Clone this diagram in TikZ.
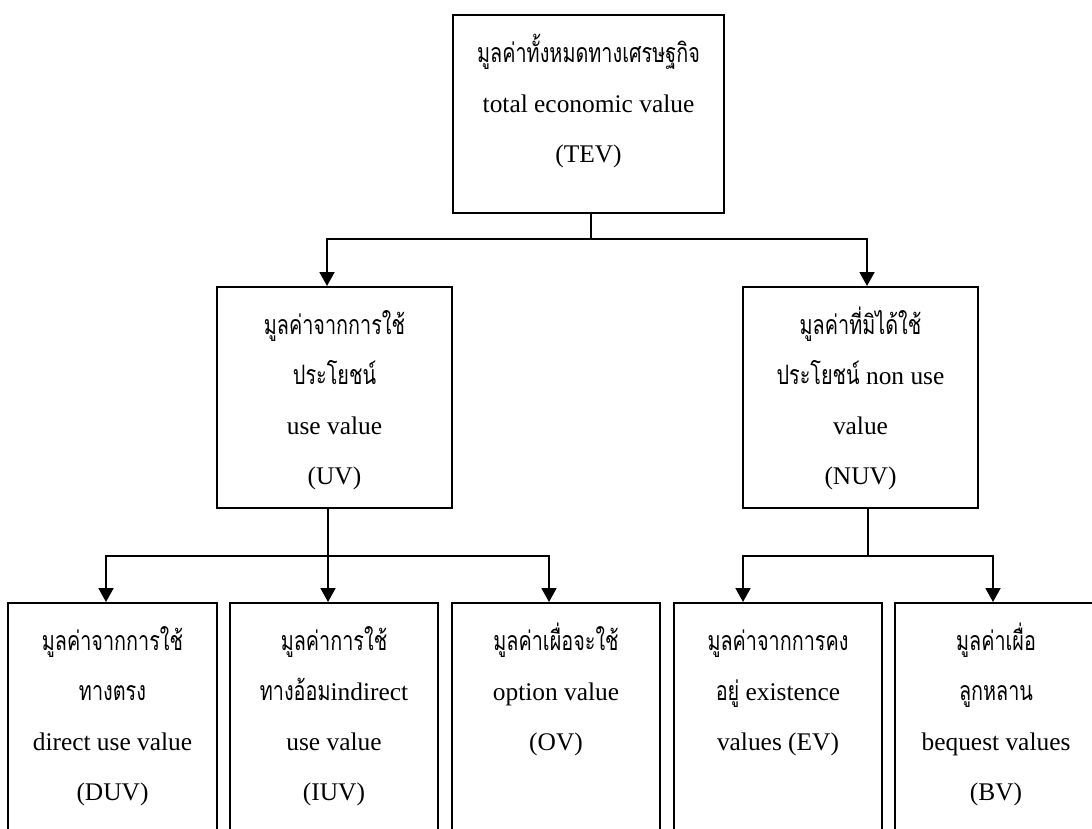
\documentclass[tikz,border=0pt]{standalone}
\usepackage{fontspec}
\usepackage{graphicx}
\setmainfont{Liberation Serif}
\newfontfamily\thaifont[Script=Thai,Scale=0.78]{Loma}
% Thai runs are set a little taller than the plain font
\newcommand\thx[1]{\scalebox{1}[1.35]{\thaifont #1}}
\newcommand\firststrut{\rule{0pt}{30pt}}
\usetikzlibrary{arrows.meta}

\begin{document}
\begin{tikzpicture}[x=1pt,y=-1pt,
  box/.style={draw, line width=2pt, inner sep=0pt},
  txt/.style={anchor=north, align=center, inner sep=0pt,
              font=\fontsize{25.4}{50}\selectfont},
  link/.style={line width=1.9pt},
  arr/.style={link, -{Triangle[length=14pt,width=15pt]}}]
\clip (0,0) rectangle (1092,829);
\fill[white] (0,0) rectangle (1092,829);

% level 0: total value
\node[box, minimum width=271pt, minimum height=198pt] (TEV) at (588.5,114) {};
\node[txt] (TEVt) at ([yshift=-18pt]TEV.north)
  {\firststrut\thx{มูลค่าทั้งหมดทางเศรษฐกิจ}\\ total economic value\\ (TEV)};

% level 1: use / non-use
\node[box, minimum width=235pt, minimum height=221pt] (UV) at (334.5,397.5) {};
\node[txt] (UVt) at ([yshift=-18pt]UV.north)
  {\firststrut\thx{มูลค่าจากการใช้}\\ \thx{ประโยชน์}\\ use value\\ (UV)};

\node[box, minimum width=235pt, minimum height=221pt] (NUV) at (860.5,397.5) {};
\node[txt] (NUVt) at ([yshift=-18pt]NUV.north)
  {\firststrut\thx{มูลค่าที่มิได้ใช้}\\ \thx{ประโยชน์} non use\\ value\\ (NUV)};

% level 2: components
\node[box, minimum width=209pt, minimum height=297pt] (DUV) at (112.5,751.5) {};
\node[txt] (DUVt) at ([yshift=-18pt]DUV.north)
  {\firststrut\thx{มูลค่าจากการใช้}\\ \thx{ทางตรง}\\ direct use value\\ (DUV)};

\node[box, minimum width=208pt, minimum height=297pt] (IUV) at (334,751.5) {};
\node[txt] (IUVt) at ([yshift=-18pt]IUV.north)
  {\firststrut\thx{มูลค่าการใช้}\\ \thx{ทางอ้อม}indirect\\ use value\\ (IUV)};

\node[box, minimum width=208pt, minimum height=297pt] (OV) at (556,751.5) {};
\node[txt] (OVt) at ([yshift=-18pt]OV.north)
  {\firststrut\thx{มูลค่าเผื่อจะใช้}\\ option value\\ (OV)};

\node[box, minimum width=208pt, minimum height=297pt] (EV) at (778,751.5) {};
\node[txt] (EVt) at ([yshift=-18pt]EV.north)
  {\firststrut\thx{มูลค่าจากการคง}\\ \thx{อยู่} existence\\ values (EV)};

\node[box, minimum width=202pt, minimum height=297pt] (BV) at (996,751.5) {};
\node[txt] (BVt) at ([yshift=-18pt]BV.north)
  {\firststrut\thx{มูลค่าเผื่อ}\\ \thx{ลูกหลาน}\\ bequest values\\ (BV)};

% connectors
\coordinate (busA) at (591,239);
\coordinate (uvDrop) at (327,239);
\coordinate (nuvDrop) at (867,239);
\draw[link] (busA |- TEV.south) -- (busA);
\draw[arr] (busA) -| (uvDrop |- UV.north);
\draw[arr] (busA) -| (nuvDrop |- NUV.north);

\coordinate (busB) at (328,556);
\coordinate (duvDrop) at (106,556);
\coordinate (ovDrop) at (549,556);
\draw[link] (busB |- UV.south) -- (busB);
\draw[arr] (busB) -- (busB |- IUV.north);
\draw[arr] (busB) -| (duvDrop |- DUV.north);
\draw[arr] (busB) -| (ovDrop |- OV.north);

\coordinate (busC) at (868,556);
\coordinate (evDrop) at (743,556);
\coordinate (bvDrop) at (993,556);
\draw[link] (busC |- NUV.south) -- (busC);
\draw[arr] (busC) -| (evDrop |- EV.north);
\draw[arr] (busC) -| (bvDrop |- BV.north);
\end{tikzpicture}
\end{document}
